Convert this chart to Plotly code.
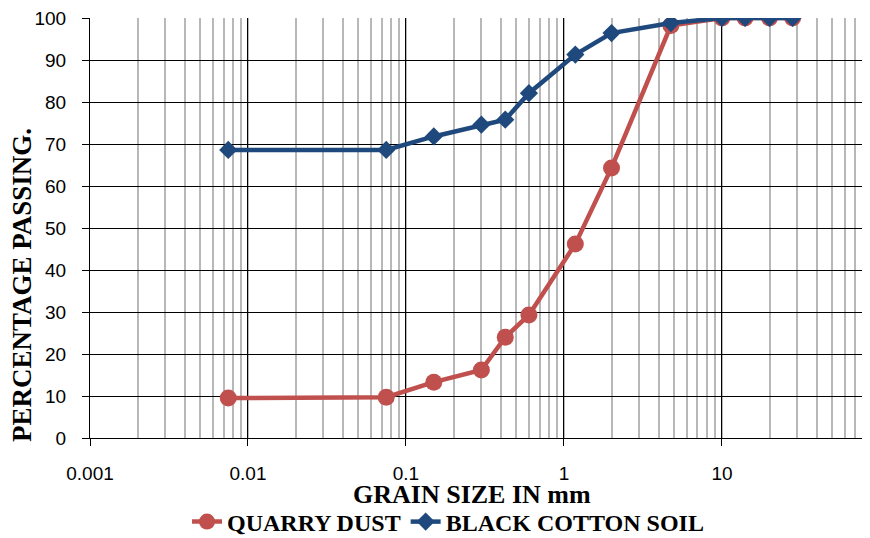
import plotly.graph_objects as go

grain_size = [0.0075, 0.075, 0.15, 0.3, 0.425, 0.6, 1.18, 2.0, 4.75, 10, 14, 20, 28]
quarry_dust = [9.5, 9.7, 13.3, 16.2, 24.0, 29.3, 46.2, 64.3, 98.2, 100, 100, 100, 100]
black_cotton_soil = [68.6, 68.6, 71.8, 74.6, 75.8, 82.1, 91.3, 96.4, 98.8, 100, 100, 100, 100]

x_ticks = [0.001, 0.01, 0.1, 1, 10]
x_tick_labels = ["0.001", "0.01", "0.1", "1", "10"]
y_ticks = list(range(0, 101, 10))

RED = "#C0504D"
BLUE = "#1F497D"
SERIF = "Liberation Serif, Times New Roman, serif"
SANS = "Liberation Sans, Arial, sans-serif"

# the page body has an 8px default margin; the figure is sized to fit inside it
fig = go.Figure()
fig.add_trace(go.Scatter(
    x=grain_size, y=quarry_dust, name="QUARRY DUST", mode="lines+markers",
    line=dict(color=RED, width=4.5),
    marker=dict(symbol="circle", size=17, color=RED),
))
fig.add_trace(go.Scatter(
    x=grain_size, y=black_cotton_soil, name="BLACK COTTON SOIL", mode="lines+markers",
    line=dict(color=BLUE, width=4.5),
    marker=dict(symbol="diamond", size=14, color=BLUE),
))

fig.update_layout(
    width=862, height=530,
    margin=dict(l=82, r=0, t=10, b=100, autoexpand=False),
    paper_bgcolor="white", plot_bgcolor="white",
    showlegend=True,
    legend=dict(orientation="h", x=0.459, xanchor="center", y=-0.2, yanchor="middle",
                font=dict(family=SERIF, size=24, color="black", weight="bold"),
                tracegroupgap=0),
    xaxis=dict(
        type="log", range=[-3, 1.937], automargin=False,
        tickvals=x_ticks, ticktext=x_tick_labels,
        tickfont=dict(family=SANS, size=19, color="black"),
        showgrid=True, gridcolor="black", gridwidth=1,
        ticks="outside", ticklen=7, tickcolor="black", tickwidth=1,
        ticklabelstandoff=11, ticklabeloverflow="allow",
        showline=True, linecolor="black", linewidth=1,
        minor=dict(dtick="D1", showgrid=True, gridcolor="#B8B8B8", gridwidth=2, ticks=""),
        zeroline=False,
    ),
    yaxis=dict(
        range=[0, 100], tickvals=y_ticks, automargin=False,
        tickfont=dict(family=SANS, size=19, color="black"),
        showgrid=True, gridcolor="black", gridwidth=1,
        ticks="outside", ticklen=7, tickcolor="black", tickwidth=1,
        ticklabelstandoff=12, ticklabeloverflow="allow",
        showline=True, linecolor="black", linewidth=1,
        zeroline=False,
    ),
    annotations=[
        dict(text="<b>PERCENTAGE PASSING.</b>", textangle=-90, xref="paper", yref="paper",
             x=(22 - 90) / 780, y=(438 - 285) / 420, xanchor="center", yanchor="middle",
             showarrow=False, font=dict(family=SERIF, size=27, color="black")),
        dict(text="<b>GRAIN SIZE IN mm</b>", xref="paper", yref="paper",
             x=(472 - 90) / 780, y=(438 - 494) / 420, xanchor="center", yanchor="middle",
             showarrow=False, font=dict(family=SERIF, size=26, color="black")),
    ],
)

fig.write_html("out.html")
